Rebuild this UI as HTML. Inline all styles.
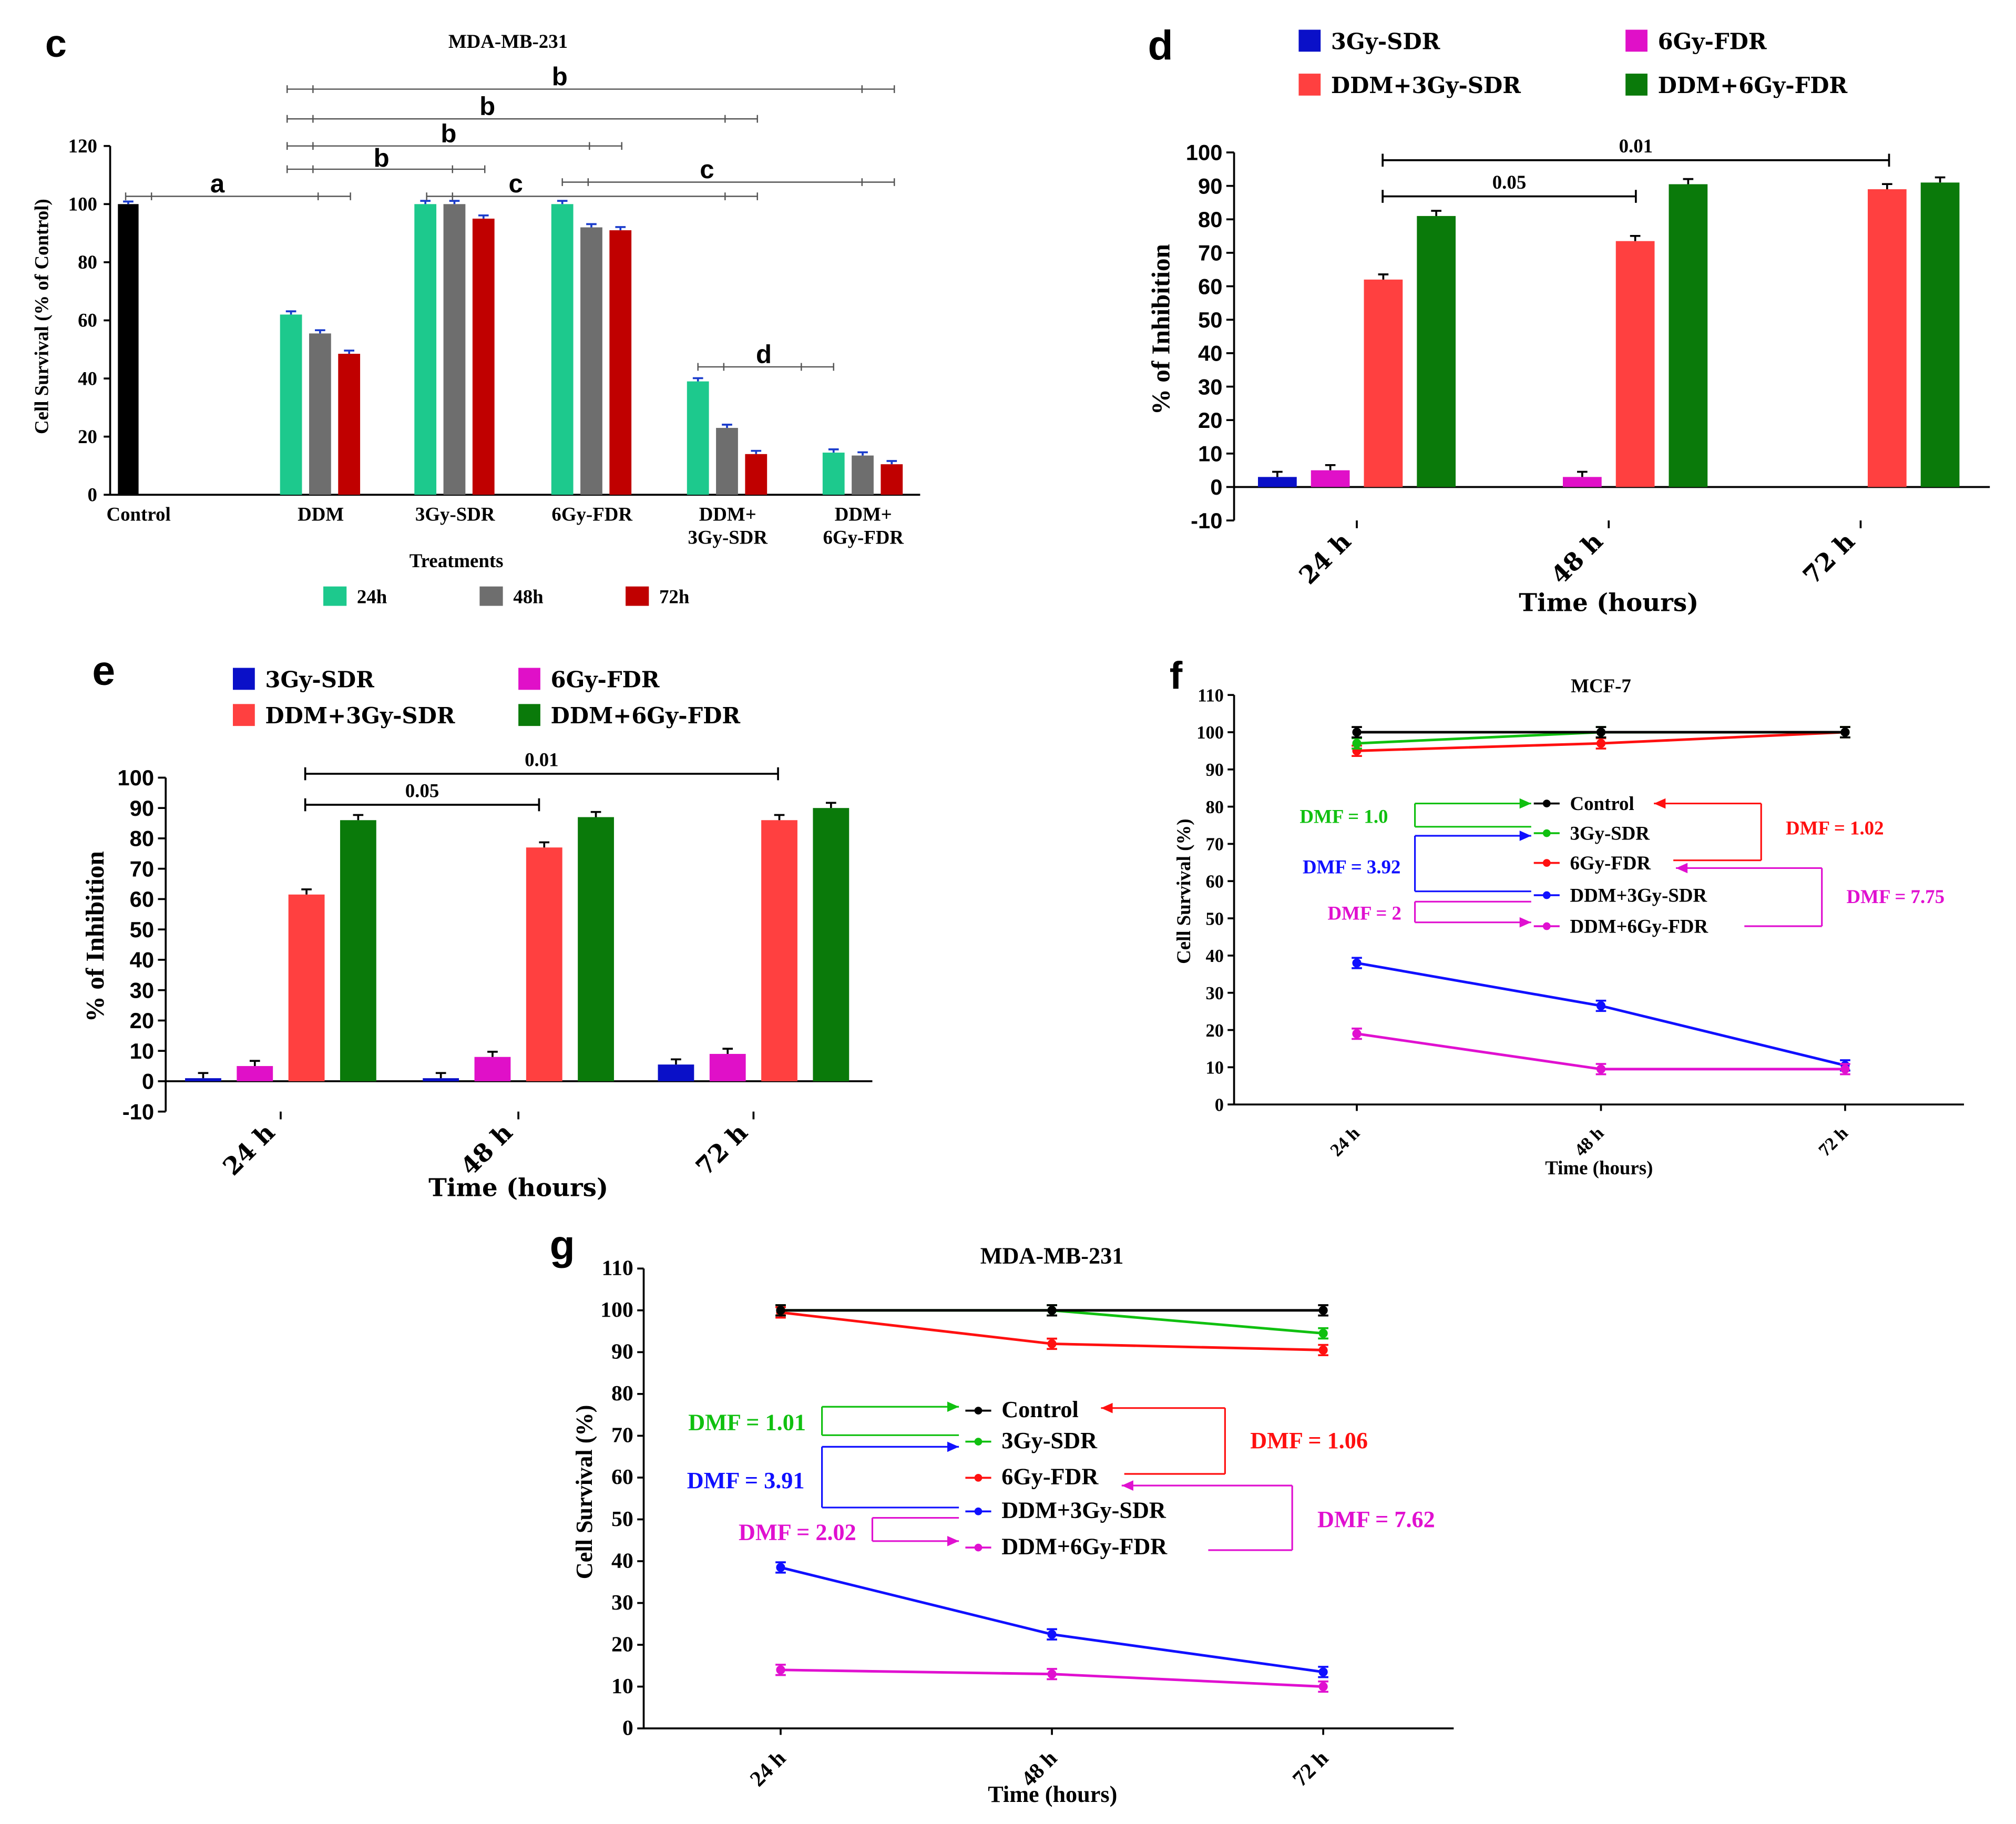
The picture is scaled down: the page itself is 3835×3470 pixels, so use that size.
<!DOCTYPE html>
<html><head><meta charset="utf-8"><style>
html,body{margin:0;padding:0;background:#fff;}
svg{display:block;}
text{font-family:"Liberation Serif",serif;font-weight:bold;}
.s{font-family:"DejaVu Serif","Liberation Serif",serif;}
.p{font-family:"Liberation Sans",sans-serif;}
</style></head><body>
<svg id="fig" xmlns="http://www.w3.org/2000/svg" width="3835" height="3470" viewBox="0 0 1560 1412"></svg>
<script>
// ---------- DATA ----------
// panel c
const cGroups = ["DDM","3Gy-SDR","6Gy-FDR","DDM+\n3Gy-SDR","DDM+\n6Gy-FDR"];
const cControl = 100;
const c24 = [62, 100, 100, 39, 14.5];
const c48 = [55.5, 100, 92, 23, 13.5];
const c72 = [48.5, 95, 91, 14, 10.5];
const cTicks = [0,20,40,60,80,100,120];
// panel d
const timeCats = ["24 h","48 h","72 h"];
const d3Gy = [3, 0, 0];
const d6Gy = [5, 3, 0];
const dDDM3 = [62, 73.5, 89];
const dDDM6 = [81, 90.5, 91];
// panel e
const e3Gy = [1, 1, 5.5];
const e6Gy = [5, 8, 9];
const eDDM3 = [61.5, 77, 86];
const eDDM6 = [86, 87, 90];
const inhTicks = [-10,0,10,20,30,40,50,60,70,80,90,100];
// panel f
const fControl = [100, 100, 100];
const f3Gy = [97, 100, 100];
const f6Gy = [95, 97, 100];
const fDDM3 = [38, 26.5, 10.5];
const fDDM6 = [19, 9.5, 9.5];
// panel g
const gControl = [100, 100, 100];
const g3Gy = [100, 100, 94.5];
const g6Gy = [99.5, 92, 90.5];
const gDDM3 = [38.5, 22.5, 13.5];
const gDDM6 = [14, 13, 10];
const survTicks = [0,10,20,30,40,50,60,70,80,90,100,110];

const NS="http://www.w3.org/2000/svg";
const svg=document.getElementById('fig');
function mk(tag,attrs,name,parent){
  const el=document.createElementNS(NS,tag);
  for(const k in attrs) el.setAttribute(k,attrs[k]);
  
  
  (parent||svg).appendChild(el);
  return el;
}
function tx(x,y,s,size,name,opt){
  opt=opt||{};
  const a={x:x,y:y,'text-anchor':opt.anchor||'middle',style:'font-size:'+size+'px;fill:'+(opt.fill||'#000')};
  if(opt.cls) a['class']=opt.cls;
  if(opt.rot!==undefined) a.transform='rotate('+opt.rot+' '+x+' '+y+')';
  const t=mk('text',a,name);
  t.textContent=s; return t;
}
function ln(x1,y1,x2,y2,name,col,w){
  return mk('line',{x1:x1,y1:y1,x2:x2,y2:y2,stroke:col||'#000','stroke-width':w||1.5},name);
}
function errbar(x,y,h,col,name){
  ln(x,y-h,x,y,name,col,1.5); ln(x-4,y-h,x+4,y-h,name,col,1.5);
}
function arrow(x1,y,x2,col,name){
  ln(x1,y,x2,y,name,col,1.3);
  const d=x2>x1?-1:1;
  mk('polygon',{points:x2+','+y+' '+(x2+d*9)+','+(y-4)+' '+(x2+d*9)+','+(y+4),fill:col},name+'-head');
}

// ---------- PANEL C ----------
(function(){
  const x0=85,x1=712,yb=383,yt=113,vmax=120;
  const Y=v=>yb-(yb-yt)*v/vmax;
  tx(43,44,'c',30,'panel-label-c',{cls:'p'});
  tx(393,37,'MDA-MB-231',15,'panel-c-title');
  ln(x0,yt,x0,yb,'c-y-axis'); ln(x0,yb,x1,yb,'c-x-axis');
  cTicks.forEach(v=>{ln(x0-5,Y(v),x0,Y(v),'c-y-tick');tx(x0-10,Y(v)+5,String(v),15,'c-y-tick-label',{anchor:'end'});});
  tx(37,245,'Cell Survival (% of Control)',15,'c-y-axis-title',{rot:-90});
  mk('rect',{x:91,y:Y(cControl),width:16,height:yb-Y(cControl),fill:'#000'},'bar-control');
  errbar(99,Y(cControl),2,'#1a3ccc','err-control');
  tx(107,403,'Control',15,'c-x-label-control');
  const gx=[248,352,458,563,668], cols=['#1dc98d','#6e6e6e','#c00000'], series=[c24,c48,c72];
  gx.forEach((cx,i)=>{
    series.forEach((s,j)=>{
      const bx=cx-23+j*22.5-8.5;
      mk('rect',{x:bx,y:Y(s[i]),width:17,height:yb-Y(s[i]),fill:cols[j]},'bar-'+['24h','48h','72h'][j]);
      errbar(bx+8.5,Y(s[i]),2.5,'#1a3ccc','err-bar');
    });
    const parts=cGroups[i].split('\n');
    parts.forEach((p,k)=>tx(cx,403+k*18,p,15,'c-x-label'));
  });
  tx(353,439,'Treatments',15,'c-x-axis-title');
  [['24h',250,'#1dc98d'],['48h',371,'#6e6e6e'],['72h',484,'#c00000']].forEach(l=>{
    mk('rect',{x:l[1],y:454,width:18,height:15,fill:l[2]},'legend-swatch-'+l[0]);
    tx(l[1]+26,467,l[0],15,'legend-label-'+l[0],{anchor:'start'});
  });
  const sig=[[69,222,692,'b',433,66],[92,222,586,'b',377,89],[113,222,481,'b',347,110],[131,222,375,'b',295,129],
    [152,97,271,'a',168,149],[152,330,586,'c',399,149],[141,435,692,'c',547,138],[284,540,645,'d',591,281]];
  sig.forEach(s=>{
    ln(s[1],s[0],s[2],s[0],'c-significance-line','#555',1);
    [s[1],s[1]+20,s[2]-25,s[2]].forEach(x=>ln(x,s[0]-3,x,s[0]+3,'c-sig-tick','#555',1));
    tx(s[4],s[5],s[3],20,'c-significance-letter',{cls:'p'});
  });
})();

// ---------- inhibition bar panels (d, e) ----------
function inhPanel(o){
  const Y=v=>o.y0-(o.y0-o.y100)*v/100;
  ln(o.x0,Y(-10),o.x0,o.y100,o.p+'-y-axis'); ln(o.x0,Y(0),o.x1,Y(0),o.p+'-x-axis');
  inhTicks.forEach(v=>{ln(o.x0-6,Y(v),o.x0,Y(v),o.p+'-y-tick');tx(o.x0-9,Y(v)+6,String(v),17,o.p+'-y-tick-label',{anchor:'end',cls:'p'});});
  const cols=['#0a10c8','#e010c8','#ff4040','#0a7a0a'];
  const names=['3Gy-SDR','6Gy-FDR','DDM+3Gy-SDR','DDM+6Gy-FDR'];
  timeCats.forEach((c,i)=>{
    const cx=o.cx[i];
    o.series.forEach((s,j)=>{
      const bx=cx+(j-1.5)*o.sp-o.bw/2;
      const v=s[i];
      if(v>0){
        mk('rect',{x:bx,y:Y(v),width:o.bw,height:Y(0)-Y(v),fill:cols[j]},o.p+'-bar-'+names[j]);
        errbar(bx+o.bw/2,Y(v),4,'#000',o.p+'-err');
      }
    });
    ln(cx,Y(-10),cx,Y(-10)+6,o.p+'-x-tick');
    tx(cx-20,Y(-10)+34,c,19,o.p+'-x-tick-label',{rot:-45,cls:'s'});
  });
  tx(o.xt[0],o.xt[1],'Time (hours)',19,o.p+'-x-axis-title',{cls:'s'});
  tx(o.yt[0],o.yt[1],'% of Inhibition',20,o.p+'-y-axis-title',{rot:-90});
  o.leg.forEach((l,j)=>{
    mk('rect',{x:l[0],y:l[1],width:17,height:17,fill:cols[j]},o.p+'-legend-swatch');
    tx(l[0]+25,l[1]+15,names[j],17,o.p+'-legend-label',{anchor:'start',cls:'s'});
  });
  o.sig.forEach(s=>{
    ln(s[1],s[0],s[2],s[0],o.p+'-sig-line'); ln(s[1],s[0]-5,s[1],s[0]+5,o.p+'-sig-cap'); ln(s[2],s[0]-5,s[2],s[0]+5,o.p+'-sig-cap');
    tx((s[1]+s[2])/2,s[0]-6,s[3],15,o.p+'-sig-label');
  });
}
tx(898,46,'d',32,'panel-label-d',{cls:'p'});
inhPanel({p:'d',x0:955,x1:1540,y0:377,y100:118,cx:[1050,1245,1440],sp:41,bw:30,
  series:[d3Gy,d6Gy,dDDM3,dDDM6],xt:[1245,473],yt:[905,255],
  leg:[[1005,23],[1258,23],[1005,57],[1258,57]],
  sig:[[124,1070,1462,'0.01'],[152,1070,1266,'0.05']]});
tx(80,530,'e',32,'panel-label-e',{cls:'p'});
inhPanel({p:'e',x0:128,x1:675,y0:837,y100:602,cx:[217,401,583],sp:40,bw:28,
  series:[e3Gy,e6Gy,eDDM3,eDDM6],xt:[401,926],yt:[80,725],
  leg:[[180,517],[401,517],[180,545],[401,545]],
  sig:[[599,236,602,'0.01'],[623,236,417,'0.05']]});

// ---------- survival line panels (f, g) ----------
function linePanel(o){
  const Y=v=>o.y0-(o.y0-o.y110)*v/110;
  const X=i=>o.px[i];
  ln(o.x0,o.y110,o.x0,o.y0,o.p+'-y-axis'); ln(o.x0,o.y0,o.x1,o.y0,o.p+'-x-axis');
  survTicks.forEach(v=>{ln(o.x0-5,Y(v),o.x0,Y(v),o.p+'-y-tick');tx(o.x0-8,Y(v)+5,String(v),o.fs,o.p+'-y-tick-label',{anchor:'end'});});
  timeCats.forEach((c,i)=>{ln(X(i),o.y0,X(i),o.y0+5,o.p+'-x-tick');tx(X(i)-6,o.y0+o.fs+18,c,o.fs,o.p+'-x-tick-label',{rot:-45});});
  tx((o.x0+o.x1)/2+o.xtoff,o.y0+o.fs+40,'Time (hours)',o.fs+1,o.p+'-x-axis-title');
  tx(o.yt[0],o.yt[1],'Cell Survival (%)',o.fs+1,o.p+'-y-axis-title',{rot:-90});
  tx(o.title[0],o.title[1],o.title[2],o.fs+1,o.p+'-title');
  const cols=['#000','#10c010','#ff1010','#1010ff','#e010d0'];
  const names=['Control','3Gy-SDR','6Gy-FDR','DDM+3Gy-SDR','DDM+6Gy-FDR'];
  const order=[3,4,2,1,0];
  order.forEach(j=>{
    const s=o.series[j];
    mk('polyline',{points:s.map((v,i)=>X(i)+','+Y(v)).join(' '),fill:'none',stroke:cols[j],'stroke-width':2},o.p+'-line-'+names[j]);
    s.forEach((v,i)=>{
      errbar(X(i),Y(v),4,cols[j],o.p+'-err'); ln(X(i),Y(v),X(i),Y(v)+4,o.p+'-err',cols[j],1.5); ln(X(i)-4,Y(v)+4,X(i)+4,Y(v)+4,o.p+'-err',cols[j],1.5);
      mk('circle',{cx:X(i),cy:Y(v),r:3.5,fill:cols[j]},o.p+'-point-'+names[j]);
    });
  });
  o.ly.forEach((y,j)=>{
    ln(o.lx-10,y,o.lx+10,y,o.p+'-legend-line',cols[j],1.5);
    mk('circle',{cx:o.lx,cy:y,r:3,fill:cols[j]},o.p+'-legend-marker');
    tx(o.lx+18,y+5,names[j],o.fs+1,o.p+'-legend-label',{anchor:'start'});
  });
  o.dmf.forEach(d=>tx(d[0],d[1],d[2],o.fs+1,o.p+'-dmf-label',{fill:d[3]}));
  o.br.forEach(b=>{
    ln(b[0],b[1],b[0],b[2],o.p+'-dmf-bracket',b[5],1.3);
    if(b[6]){arrow(b[0],b[1],b[3],b[5],o.p+'-dmf-arrow');ln(b[0],b[2],b[4],b[2],o.p+'-dmf-bracket',b[5],1.3);}
    else{ln(b[0],b[1],b[3],b[1],o.p+'-dmf-bracket',b[5],1.3);arrow(b[0],b[2],b[4],b[5],o.p+'-dmf-arrow');}
  });
}
tx(910,533,'f',30,'panel-label-f',{cls:'p'});
linePanel({p:'f',x0:955,x1:1520,y0:855,y110:538,px:[1050,1239,1428],fs:14,xtoff:0,
  yt:[921,690],title:[1239,536,'MCF-7'],series:[fControl,f3Gy,f6Gy,fDDM3,fDDM6],
  lx:1197,ly:[622,645,668,693,717],
  dmf:[[1040,637,'DMF = 1.0','#10c010'],[1420,646,'DMF = 1.02','#ff1010'],[1046,676,'DMF = 3.92','#1010ff'],[1467,699,'DMF = 7.75','#e010d0'],[1056,712,'DMF = 2','#e010d0']],
  br:[[1095,622,640,1185,1185,'#10c010',true],[1363,622,666,1280,1295,'#ff1010',true],[1095,647,690,1185,1185,'#1010ff',true],
      [1410,672,717,1297,1350,'#e010d0',true],[1095,698,714,1185,1185,'#e010d0',false]]});
tx(435,975,'g',32,'panel-label-g',{cls:'p'});
linePanel({p:'g',x0:498,x1:1125,y0:1338,y110:982,px:[604,814,1024],fs:17,xtoff:3,
  yt:[458,1155],title:[814,978,'MDA-MB-231'],series:[gControl,g3Gy,g6Gy,gDDM3,gDDM6],
  lx:757,ly:[1092,1116,1144,1170,1198],
  dmf:[[578,1107,'DMF = 1.01','#10c010'],[1013,1121,'DMF = 1.06','#ff1010'],[577,1152,'DMF = 3.91','#1010ff'],[1065,1182,'DMF = 7.62','#e010d0'],[617,1192,'DMF = 2.02','#e010d0']],
  br:[[636,1089,1111,742,742,'#10c010',true],[948,1090,1141,852,870,'#ff1010',true],[636,1120,1167,742,742,'#1010ff',true],
      [1000,1150,1200,868,935,'#e010d0',true],[675,1175,1193,742,742,'#e010d0',false]]});
</script>
</body></html>
